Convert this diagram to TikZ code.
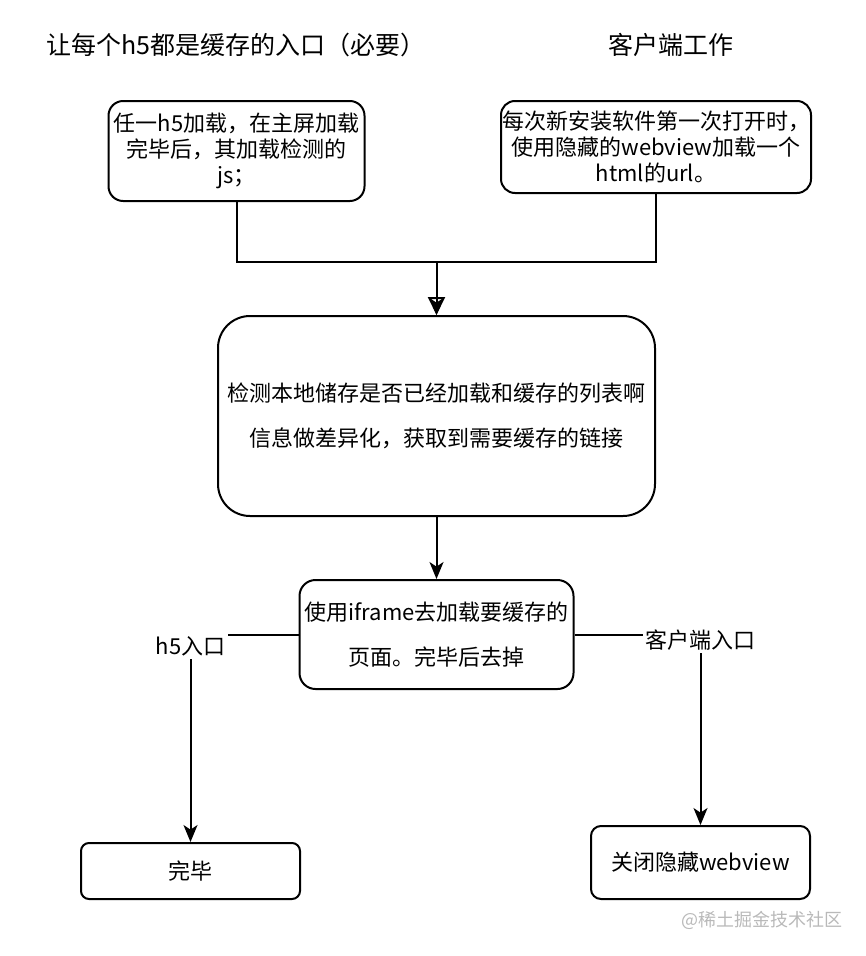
\documentclass[tikz,border=0pt]{standalone}
\usepackage{fontspec}
\setmainfont{Noto Sans CJK SC}
\usetikzlibrary{arrows.meta}
\begin{document}
\begin{tikzpicture}[x=0.75pt, y=-0.75pt, align=center, font=\fontsize{16.5}{19.5}\selectfont]
\tikzstyle{v} = [draw=black, line width=1.5pt, inner sep=0pt]
\tikzstyle{e} = [draw=black, line width=1.5pt]
\tikzstyle{l} = [fill=white, inner sep=2pt]
\tikzstyle{tip} = [-{Stealth[length=12.75pt, width=10.5pt, inset=3.5pt]}]

\useasboundingbox (0,0) rectangle (866,956);

\node (T1) at (236,45) {\fontsize{18.75}{22}\selectfont 让每个h5都是缓存的入口（必要）};
\node (T2) at (671,45) {\fontsize{18.75}{22}\selectfont 客户端工作};

\node[v, rounded corners=11pt, minimum width=192pt, minimum height=75pt] (A) at (236.5,151) {任一h5加载，在主屏加载\\完毕后，其加载检测的\\js；};
\node[v, rounded corners=10.5pt, minimum width=232.5pt, minimum height=69pt] (B) at (656,147) {每次新安装软件第一次打开时，\\使用隐藏的webview加载一个\\html的url。};
\node[v, rounded corners=24pt, minimum width=327.75pt, minimum height=150pt, font=\fontsize{16.5}{33.75}\selectfont] (C) at (436.5,416) {检测本地储存是否已经加载和缓存的列表啊\\信息做差异化，获取到需要缓存的链接};
\node[v, rounded corners=12pt, minimum width=205.5pt, minimum height=81.75pt, font=\fontsize{16.5}{33.75}\selectfont] (D) at (436.5,634.5) {使用iframe去加载要缓存的\\页面。完毕后去掉};
\node[v, rounded corners=6pt, minimum width=164.25pt, minimum height=42pt] (E) at (190.5,871) {完毕};
\node[v, rounded corners=7.5pt, minimum width=164.25pt, minimum height=54.75pt] (F) at (700.5,862.5) {关闭隐藏webview};

\coordinate (J) at (436.5,262);

\draw[e, -{Triangle[open, fill=white, length=13.5pt, width=12.75pt]}] (A.south) |- (J) -- (C.north);
\draw[e, tip] (B.south) |- (J) -- (C.north);
\draw[e, tip] (C.south) -- (D.north);
\draw[e, tip] (D.west) -| node[l, pos=0.5, yshift=-9pt] (H5) {h5入口} (E.north);
\draw[e, tip] (D.east) -| node[l, pos=0.5, yshift=-4pt] (KH) {客户端入口} (F.north);

\node[text=gray!55, font=\fontsize{13.5}{16}\selectfont] (W) at (762,920) {@稀土掘金技术社区};
\end{tikzpicture}
\end{document}
